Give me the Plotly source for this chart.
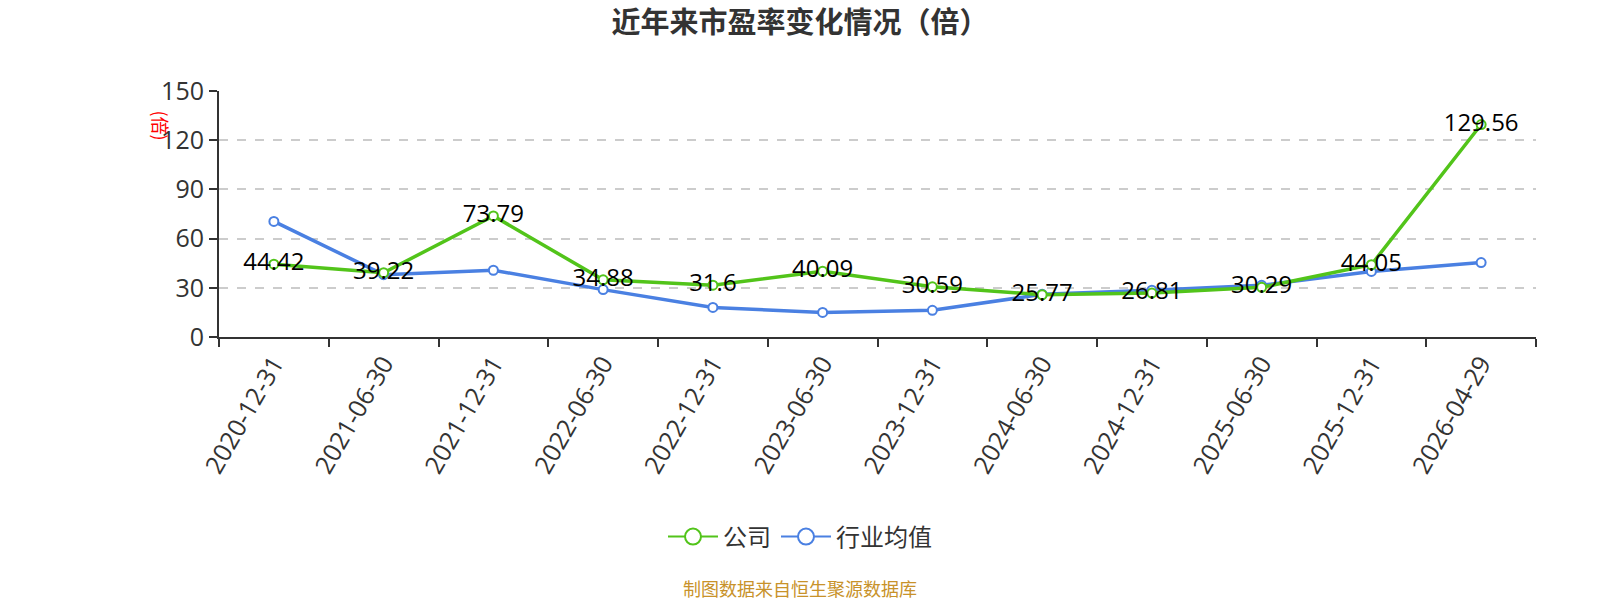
import plotly.graph_objects as go

categories = ["2020-12-31", "2021-06-30", "2021-12-31", "2022-06-30", "2022-12-31", "2023-06-30",
              "2023-12-31", "2024-06-30", "2024-12-31", "2025-06-30", "2025-12-31", "2026-04-29"]
company = [44.42, 39.22, 73.79, 34.88, 31.6, 40.09, 30.59, 25.77, 26.81, 30.29, 44.05, 129.56]
industry = [70.5, 38.0, 40.7, 28.9, 18.0, 15.0, 16.3, 26.0, 28.5, 31.5, 40.0, 45.4]
y_ticks = [0, 30, 60, 90, 120, 150]

GREEN = "#52C41A"
BLUE = "#4A80E2"
FONT = "Open Sans, Noto Sans CJK SC, sans-serif"
CJK = "Noto Sans CJK SC, sans-serif"

# page-centre expressed in plot-area (paper) coordinates
PAGE_CX = (800 - 219) / (1600 - 219 - 64)

fig = go.Figure()
fig.add_trace(go.Scatter(
    x=categories, y=industry, name="行业均值", mode="lines+markers", showlegend=False,
    line=dict(color=BLUE, width=3.5),
    marker=dict(symbol="circle", size=9, color="white", line=dict(color=BLUE, width=2)),
))
fig.add_trace(go.Scatter(
    x=categories, y=company, name="公司", mode="lines+markers+text", showlegend=False,
    line=dict(color=GREEN, width=3.5),
    marker=dict(symbol="circle", size=9, color="white", line=dict(color=GREEN, width=2)),
    text=[str(v) for v in company], textposition="middle center",
    textfont=dict(color="black", size=24, family=FONT),
))
# legend-only entries with larger symbols
for nm, col in [("公司", GREEN), ("行业均值", BLUE)]:
    fig.add_trace(go.Scatter(
        x=[None], y=[None], name=nm, mode="lines+markers",
        line=dict(color=col, width=2),
        marker=dict(symbol="circle", size=16, color="white", line=dict(color=col, width=2)),
    ))

fig.update_layout(
    width=1600, height=600,
    margin=dict(l=219, r=64, t=91, b=263),
    plot_bgcolor="white", paper_bgcolor="white",
    font=dict(family=FONT, color="#333"),
    title=dict(text="<b>近年来市盈率变化情况（倍）</b>", x=0.5, xanchor="center",
               y=1 - 23 / 600, yanchor="middle",
               font=dict(size=29, color="#333", family=CJK)),
    showlegend=True,
    legend=dict(orientation="h", x=PAGE_CX, xanchor="center", y=-0.813, yanchor="middle",
                font=dict(size=24, color="#333", family=CJK), itemsizing="trace",
                itemwidth=50),
    xaxis=dict(type="category", categoryorder="array", categoryarray=categories,
               tickson="boundaries", ticks="outside", ticklen=8, tickwidth=2, tickcolor="#333",
               showline=True, linecolor="#333", linewidth=2, showgrid=False,
               tickangle=-60, tickfont=dict(size=25, color="#333"),
               range=[-0.5, 11.5]),
    yaxis=dict(range=[0, 150], tickvals=y_ticks, ticks="outside", ticklen=8, tickwidth=2,
               tickcolor="#333", showline=True, linecolor="#333", linewidth=2,
               showgrid=True, gridcolor="#ccc", griddash="dash", gridwidth=1.5,
               zeroline=False, tickfont=dict(size=25, color="#333")),
    annotations=[
        dict(text="(倍)", xref="paper", yref="paper", x=-0.044, y=0.86,
             showarrow=False, textangle=90, font=dict(size=18, color="red", family=CJK),
             xanchor="center", yanchor="middle"),
        dict(text="制图数据来自恒生聚源数据库", xref="paper", yref="paper", x=PAGE_CX, y=-1.02,
             showarrow=False, font=dict(size=18, color="#C8922A", family=CJK),
             xanchor="center", yanchor="middle"),
    ],
)

fig.write_html("out.html")
